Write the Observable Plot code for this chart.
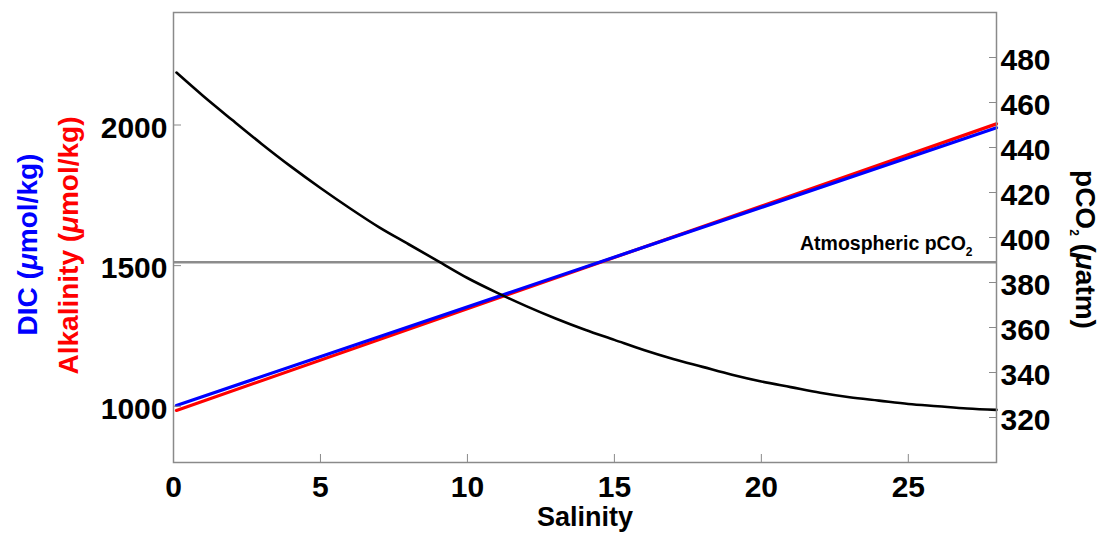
<!DOCTYPE html>
<html><head><meta charset="utf-8">
<script src="https://cdn.jsdelivr.net/npm/d3@7"></script>
<script src="https://cdn.jsdelivr.net/npm/@observablehq/plot@0.6"></script>
<style>html,body{margin:0;padding:0;background:#fff}</style>
</head><body><div id="chart"></div>
<script>
// ---- data ----
const lineSalinity = [0.1, 28];
const dic = [1003, 1990];
const alkalinity = [985, 2004];

const salinity = [0.1,1,2,3,4,5,6,7,8,9,10,11,12,13,14,15,16,17,18,19,20,21,22,23,24,25,26,27,28];
const pco2 = [473.3,463,452.2,441.6,431.5,422,413,404.5,397,389.5,382,375.5,369.5,364,359,354.5,350,346,342.5,339,336,333.5,331,329,327.5,326,325,324,323.4];

const atmosphericPco2 = 389;

const xTicks = [0, 5, 10, 15, 20, 25];
const leftTicks = [1000, 1500, 2000];
const rightTicks = [320, 340, 360, 380, 400, 420, 440, 460, 480];
const leftDomain = [800, 2400];
const rightDomain = [300, 500];

// map pCO2 onto the left (DIC) scale
const k = (leftDomain[1] - leftDomain[0]) / (rightDomain[1] - rightDomain[0]);
const toLeft = p => leftDomain[0] + (p - rightDomain[0]) * k;
const fromLeft = v => String(Math.round(rightDomain[0] + (v - leftDomain[0]) / k));

const lines = lineSalinity.map((s, i) => ({s, dic: dic[i], alk: alkalinity[i]}));
const curve = salinity.map((s, i) => ({s, p: toLeft(pco2[i])}));

const tickStroke = "#8a8a8a";
const labelSize = 30;

const svg = Plot.plot({
  width: 1107,
  height: 535,
  marginLeft: 173,
  marginRight: 111,
  marginTop: 12,
  marginBottom: 73,
  style: {fontFamily: "'Liberation Sans', Arial, sans-serif", fontWeight: "bold", background: "#fff", color: "#000"},
  x: {domain: [0, 28]},
  y: {domain: leftDomain},
  marks: [
    Plot.ruleY([toLeft(atmosphericPco2)], {stroke: "#8c8c8c", strokeWidth: 2.5}),
    Plot.text(["Atmospheric pCO2"], {x: () => 28, y: () => toLeft(atmosphericPco2), dx: -24, dy: -12, textAnchor: "end", lineAnchor: "bottom", fontSize: 19.5, fontWeight: "bold", fill: "#000"}),
    Plot.line(lines, {x: "s", y: "alk", stroke: "#ff0000", strokeWidth: 3.2}),
    Plot.line(lines, {x: "s", y: "dic", stroke: "#0000ff", strokeWidth: 3.2}),
    Plot.line(curve, {x: "s", y: "p", stroke: "#000", strokeWidth: 2.6, curve: "monotone-x"}),
    Plot.frame({stroke: tickStroke, strokeWidth: 1.5}),
    // inward ticks
    Plot.axisX(xTicks, {tickSize: -8, fill: "none", stroke: tickStroke, label: null}),
    Plot.axisY(leftTicks, {anchor: "left", tickSize: -8, fill: "none", stroke: tickStroke, label: null}),
    Plot.axisY(rightTicks.map(toLeft), {anchor: "right", tickSize: -8, fill: "none", stroke: tickStroke, label: null}),
    // tick labels
    Plot.axisX(xTicks, {tickSize: 0, tickPadding: 13, tickFormat: d => String(d), fontSize: labelSize, fontWeight: "bold", label: null}),
    Plot.axisY(leftTicks, {anchor: "left", tickSize: 0, tickPadding: 6, dy: 3, tickFormat: d => String(d), fontSize: labelSize, fontWeight: "bold", label: null}),
    Plot.axisY(rightTicks.map(toLeft), {anchor: "right", tickSize: 0, tickPadding: 4, dy: 3, tickFormat: fromLeft, fontSize: labelSize, fontWeight: "bold", label: null}),
    // axis titles
    Plot.text(["Salinity"], {frameAnchor: "bottom", textAnchor: "middle", dy: 63, fontSize: 27, fontWeight: "bold", fill: "#000"}),
    Plot.text(["DIC (μmol/kg)"], {frameAnchor: "left", textAnchor: "middle", dx: -145, dy: 7, rotate: -90, fontSize: 28, fontWeight: "bold", fill: "#0000ff"}),
    Plot.text(["Alkalinity (μmol/kg)"], {frameAnchor: "left", textAnchor: "middle", dx: -104, dy: 8, rotate: -90, fontSize: 28, fontWeight: "bold", fill: "#ff0000"}),
    Plot.text(["pCO2 (μatm)"], {frameAnchor: "right", textAnchor: "middle", dx: 88, dy: 12, rotate: 90, fontSize: 28, fontWeight: "bold", fill: "#000"})
  ]
});

// rich text: italic mu, subscript 2
d3.select(svg).selectAll("text").each(function() {
  const t = this.textContent;
  if (!(t.includes("μ") || t.includes("pCO2"))) return;
  const fs = parseFloat(this.getAttribute("font-size")) || 20;
  const sh = Math.round(fs * 0.3);
  const sub = Math.round(fs * 0.6);
  const esc = s => s.replace("μ", '<tspan font-style="italic">μ</tspan>');
  const i = t.indexOf("pCO2");
  if (i >= 0) {
    const before = t.slice(0, i), after = t.slice(i + 4);
    let html = esc(before) + `pCO<tspan font-size="${sub}" dy="${sh}">2</tspan>`;
    if (after.length) html += `<tspan dy="${-sh}">${esc(after)}</tspan>`;
    this.innerHTML = html;
  } else {
    this.innerHTML = esc(t);
  }
});

document.getElementById("chart").appendChild(svg);
</script>
</body></html>
